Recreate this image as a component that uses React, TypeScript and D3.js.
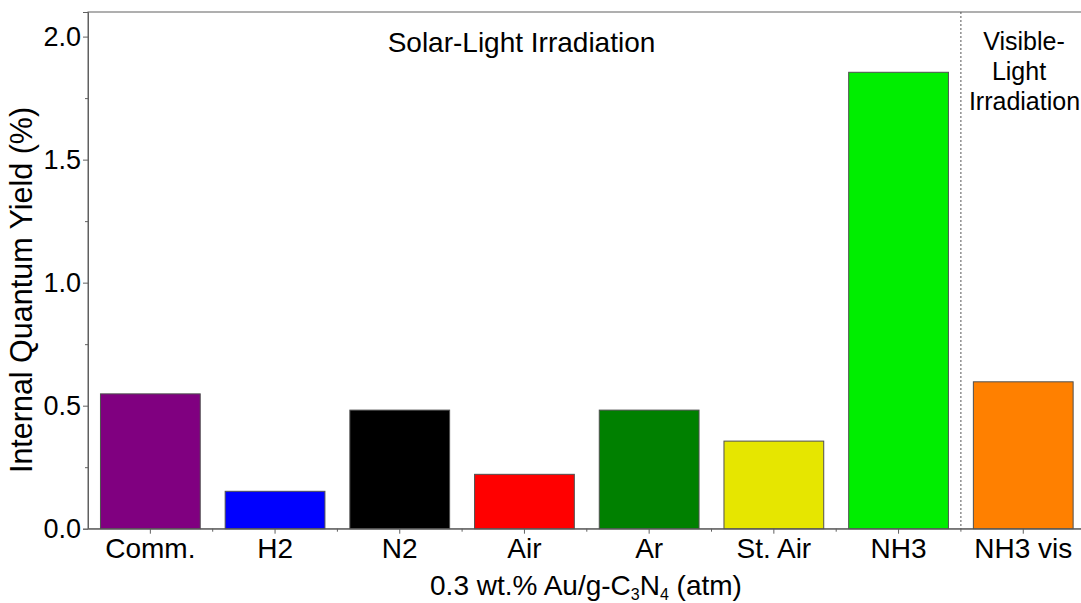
import * as d3 from 'd3';
import React, { useEffect, useRef } from 'react';

const categories = ['Comm.', 'H2', 'N2', 'Air', 'Ar', 'St. Air', 'NH3', 'NH3 vis'];
const yields = [0.548, 0.152, 0.482, 0.221, 0.482, 0.356, 1.855, 0.597];
const barColors = ['#800080', '#0000ff', '#000000', '#ff0000', '#008000', '#e6e600', '#00ee00', '#ff8000'];
const yTicks = [0, 0.5, 1.0, 1.5, 2.0];
const yMinorTicks = [0.25, 0.75, 1.25, 1.75];
const solarLabel = 'Solar-Light Irradiation';
const visibleLabel = ['Visible-', 'Light', 'Irradiation'];

const FONT = '"Liberation Sans", Arial, sans-serif';
const AXIS_COLOR = '#606060';

const App = (): React.JSX.Element => {
	const chartRef = useRef<SVGSVGElement | null>(null);

	useEffect(() => {
		if (chartRef.current === null) return;
		d3.select(chartRef.current).selectAll('*').remove();

		const width = 1081;
		const height = 603;
		const margin = { top: 12, left: 88, bottom: 528.7, right: 1085.6 };

		const svg = d3.select(chartRef.current)
			.attr('width', width)
			.attr('height', height);

		const xScale = d3.scaleBand()
			.domain(categories)
			.range([margin.left, margin.right])
			.paddingInner(0.2)
			.paddingOuter(0.1);

		const yScale = d3.scaleLinear()
			.domain([0, 2.1])
			.range([margin.bottom, margin.top]);

		const gap = (xScale.step() - xScale.bandwidth()) / 2;
		const boundaries = categories.slice(1).map((c) => (xScale(c) ?? 0) - gap);

		// frame
		svg.append('rect')
			.attr('x', margin.left)
			.attr('y', margin.top)
			.attr('width', margin.right - margin.left)
			.attr('height', margin.bottom - margin.top)
			.attr('fill', 'none')
			.attr('stroke', AXIS_COLOR)
			.attr('stroke-width', 1);

		// divider between solar and visible
		svg.append('line')
			.attr('x1', boundaries[boundaries.length - 1])
			.attr('x2', boundaries[boundaries.length - 1])
			.attr('y1', margin.top)
			.attr('y2', margin.bottom)
			.attr('stroke', '#555')
			.attr('stroke-width', 1)
			.attr('stroke-dasharray', '2,2');

		svg.selectAll('rect.bar')
			.data(yields)
			.enter()
			.append('rect')
			.attr('class', 'bar')
			.attr('x', (_, i) => xScale(categories[i]) ?? 0)
			.attr('y', (d) => yScale(d))
			.attr('width', xScale.bandwidth())
			.attr('height', (d) => yScale(0) - yScale(d))
			.attr('fill', (_, i) => barColors[i])
			.attr('stroke', '#505050')
			.attr('stroke-width', 1);

		// y axis
		const yAxis = svg.append('g')
			.attr('transform', `translate(${margin.left}, 0)`)
			.call(d3.axisLeft(yScale).tickValues(yTicks).tickFormat(d3.format('.1f')).tickSize(5).tickPadding(2));
		yAxis.attr('font-family', FONT).attr('font-size', 27);
		yAxis.selectAll('path, line').attr('stroke', AXIS_COLOR);
		yAxis.selectAll('text').attr('fill', '#000');

		const yMinor = svg.append('g')
			.attr('transform', `translate(${margin.left}, 0)`)
			.call(d3.axisLeft(yScale).tickValues(yMinorTicks).tickFormat(() => '').tickSize(3));
		yMinor.select('.domain').remove();
		yMinor.selectAll('line').attr('stroke', AXIS_COLOR);

		// x axis
		const xAxis = svg.append('g')
			.attr('transform', `translate(0, ${margin.bottom})`)
			.call(d3.axisBottom(xScale).tickSize(5).tickPadding(4.4).tickSizeOuter(0));
		xAxis.attr('font-family', FONT).attr('font-size', 28);
		xAxis.selectAll('path, line').attr('stroke', AXIS_COLOR);
		xAxis.selectAll('text').attr('fill', '#000');

		svg.append('g')
			.selectAll('line')
			.data(boundaries)
			.enter()
			.append('line')
			.attr('x1', (d) => d)
			.attr('x2', (d) => d)
			.attr('y1', margin.bottom)
			.attr('y2', margin.bottom + 3)
			.attr('stroke', AXIS_COLOR);

		// y title
		svg.append('text')
			.attr('transform', 'rotate(-90)')
			.attr('x', -290)
			.attr('y', 32)
			.attr('text-anchor', 'middle')
			.attr('font-family', FONT)
			.attr('font-size', 30.5)
			.text('Internal Quantum Yield (%)');

		// x title with subscripts
		const xTitle = svg.append('text')
			.attr('x', 586)
			.attr('y', 595)
			.attr('text-anchor', 'middle')
			.attr('font-family', FONT)
			.attr('font-size', 28);
		xTitle.append('tspan').text('0.3 wt.% Au/g-C');
		xTitle.append('tspan').attr('font-size', 16).attr('dy', 5).text('3');
		xTitle.append('tspan').attr('dy', -5).text('N');
		xTitle.append('tspan').attr('font-size', 16).attr('dy', 5).text('4');
		xTitle.append('tspan').attr('dy', -5).text(' (atm)');

		// annotations
		svg.append('text')
			.attr('x', 521.5)
			.attr('y', 52)
			.attr('text-anchor', 'middle')
			.attr('font-family', FONT)
			.attr('font-size', 28)
			.text(solarLabel);

		const visX = [1024, 1019, 1024.5];
		svg.append('g')
			.selectAll('text')
			.data(visibleLabel)
			.enter()
			.append('text')
			.attr('x', (_, i) => visX[i])
			.attr('y', (_, i) => 50 + i * 30)
			.attr('text-anchor', 'middle')
			.attr('font-family', FONT)
			.attr('font-size', 25)
			.text((d) => d);
	}, []);

	return (
		<svg ref={chartRef} style={{ position: 'absolute', left: 0, top: 0, background: '#fff' }} />
	);
};

export default App;
